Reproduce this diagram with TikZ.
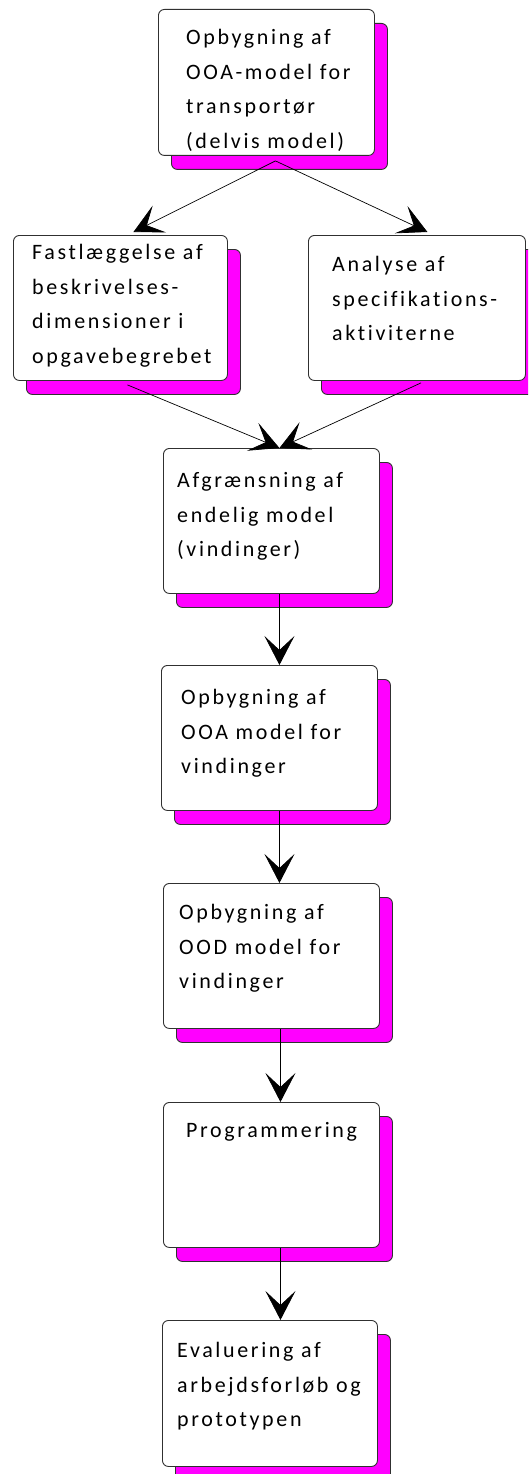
\documentclass[tikz,border=0pt]{standalone}
\usepackage{fontspec}
\setmainfont{Carlito}[LetterSpace=12,Ligatures=NoCommon]
\usetikzlibrary{arrows.meta,shadows}
\definecolor{shmag}{HTML}{FF00FF}
\definecolor{edge}{HTML}{303030}
\tikzset{
  box/.style={draw=edge, line width=0.9pt, fill=white, rounded corners=6pt,
    minimum width=216pt, minimum height=146pt, anchor=north west, inner sep=0pt,
    copy shadow={shadow xshift=13pt, shadow yshift=-14pt, fill=shmag, draw=edge}},
  txt/.style={anchor=north west, inner sep=0pt, align=left,
    font=\fontsize{22}{34.5}\selectfont, text=black},
  arr/.style={draw=black, line width=0.7pt,
    -{Stealth[length=29pt,width=30pt,inset=14pt]}}
}
\begin{document}
\begin{tikzpicture}[x=1pt,y=-1pt]
\useasboundingbox (0,0) rectangle (528,1474);
\clip (0,0) rectangle (528,1474);
% boxes
\node[box] (b1) at (158,9) {};
\node[box, minimum width=214pt, minimum height=145pt] (b2) at (13,235) {};
\node[box, minimum width=217pt, minimum height=145pt] (b3) at (308,235) {};
\node[box, minimum height=145pt] (b4) at (163,448) {};
\node[box, minimum height=145pt] (b5) at (161,665) {};
\node[box, minimum height=145pt] (b6) at (163,883) {};
\node[box, minimum height=145pt] (b7) at (163,1102) {};
\node[box, minimum width=215pt] (b8) at (162,1320) {};
% texts
\node[txt] (t1) at (186,20.5) {\strut Opbygning af\\OOA-model for\\transportør\\(delvis model)};
\node[txt] (t2) at (32,235.5) {\strut Fastlæggelse af\\beskrivelses-\\dimensioner i\\opgavebegrebet};
\node[txt] (t3) at (332,247.5) {\strut Analyse af\\specifikations-\\aktiviterne};
\node[txt] (t4) at (177,463.5) {\strut Afgrænsning af\\endelig model\\(vindinger)};
\node[txt] (t5) at (181,680.5) {\strut Opbygning af\\OOA model for\\vindinger};
\node[txt] (t6) at (179,895.5) {\strut Opbygning af\\OOD model for\\vindinger};
\node[txt] (t7) at (186,1113.5) {\strut Programmering};
\node[txt] (t8) at (177,1333.5) {\strut Evaluering af\\arbejdsforløb og\\prototypen};
% connectors
\coordinate (s1) at ([xshift=9pt,yshift=-5pt]b1.south);
\coordinate (s2) at ([xshift=7pt,yshift=-4pt]b2.south);
\coordinate (s3) at ([xshift=4pt,yshift=-2pt]b3.south);
\draw[arr] (s1) -- ([xshift=13pt,yshift=3pt]b2.north);
\draw[arr] (s1) -- ([xshift=10.5pt,yshift=3pt]b3.north);
\draw[arr] (s2) -- ([xshift=8pt]b4.north);
\draw[arr] (s3) -- ([xshift=8pt]b4.north);
\draw[arr] ([xshift=8pt]b4.south) -- ([xshift=10pt]b5.north);
\draw[arr] ([xshift=10pt]b5.south) -- ([xshift=8pt]b6.north);
\draw[arr] ([xshift=9pt]b6.south) -- ([xshift=9pt]b7.north);
\draw[arr] ([xshift=9pt]b7.south) -- ([xshift=10.5pt]b8.north);
\end{tikzpicture}
\end{document}
